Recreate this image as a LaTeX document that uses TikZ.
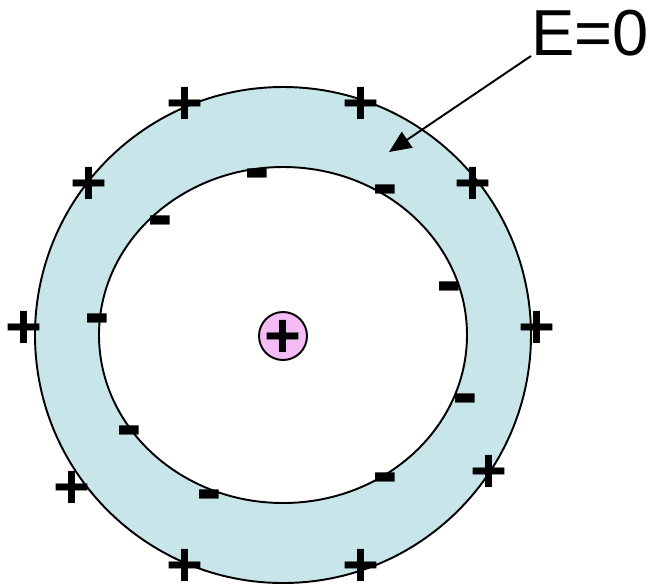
\documentclass[tikz,border=0pt]{standalone}
\usepackage{fontspec}
\setmainfont{Liberation Sans}
\usetikzlibrary{arrows.meta}

\definecolor{shellblue}{RGB}{200,230,234}
\definecolor{chargepink}{RGB}{244,188,244}

\tikzset{
  shell/.style={draw, line width=1.1pt, fill=shellblue},
  hollow/.style={draw, line width=1.1pt, fill=white},
  core/.style={circle, draw, line width=1.1pt, fill=chargepink, minimum size=0.96cm, inner sep=0pt},
  poscharge/.style={inner sep=0pt, yshift=-1.5pt, font=\fontsize{36}{40}\selectfont\bfseries},
  negcharge/.style={inner sep=0pt, yshift=-5pt, font=\fontsize{44}{48}\selectfont\bfseries},
  arrow/.style={-{Triangle[length=0.44cm, width=0.38cm]}, line width=1.1pt},
}

\begin{document}
\begin{tikzpicture}[x=0.2mm, y=-0.2mm]
  \useasboundingbox (0,0) rectangle (650,586);

  % conducting shell and cavity
  \draw[shell]  (283,335) ellipse (248 and 248);
  \draw[hollow] (283,335) ellipse (184 and 168);

  % point charge in the cavity
  \node[core] (q) at (283,336) {};
  \node[poscharge] (qsign) at (283,336) {+};

  % charges on the outer surface
  \node[poscharge] (p1)  at (185,103) {+};
  \node[poscharge] (p2)  at (361,103) {+};
  \node[poscharge] (p3)  at (89,183)  {+};
  \node[poscharge] (p4)  at (473,183) {+};
  \node[poscharge] (p5)  at (24,327)  {+};
  \node[poscharge] (p6)  at (537,327) {+};
  \node[poscharge] (p7)  at (72,487)  {+};
  \node[poscharge] (p8)  at (489,471) {+};
  \node[poscharge] (p9)  at (185,565) {+};
  \node[poscharge] (p10) at (361,565) {+};

  % charges on the inner surface
  \node[negcharge] (n1) at (257,172) {-};
  \node[negcharge] (n2) at (385,188) {-};
  \node[negcharge] (n3) at (160,219) {-};
  \node[negcharge] (n4) at (449,285) {-};
  \node[negcharge] (n5) at (97,317)  {-};
  \node[negcharge] (n6) at (465,397) {-};
  \node[negcharge] (n7) at (129,429) {-};
  \node[negcharge] (n8) at (385,476) {-};
  \node[negcharge] (n9) at (209,493) {-};

  % field label
  \node[anchor=base west, inner sep=0pt, font=\fontsize{37}{40}\selectfont] (lbl) at (531,55) {E=0};
  \coordinate (inside) at (389,152);
  \draw[arrow] (lbl.south west) -- (inside);
\end{tikzpicture}
\end{document}
